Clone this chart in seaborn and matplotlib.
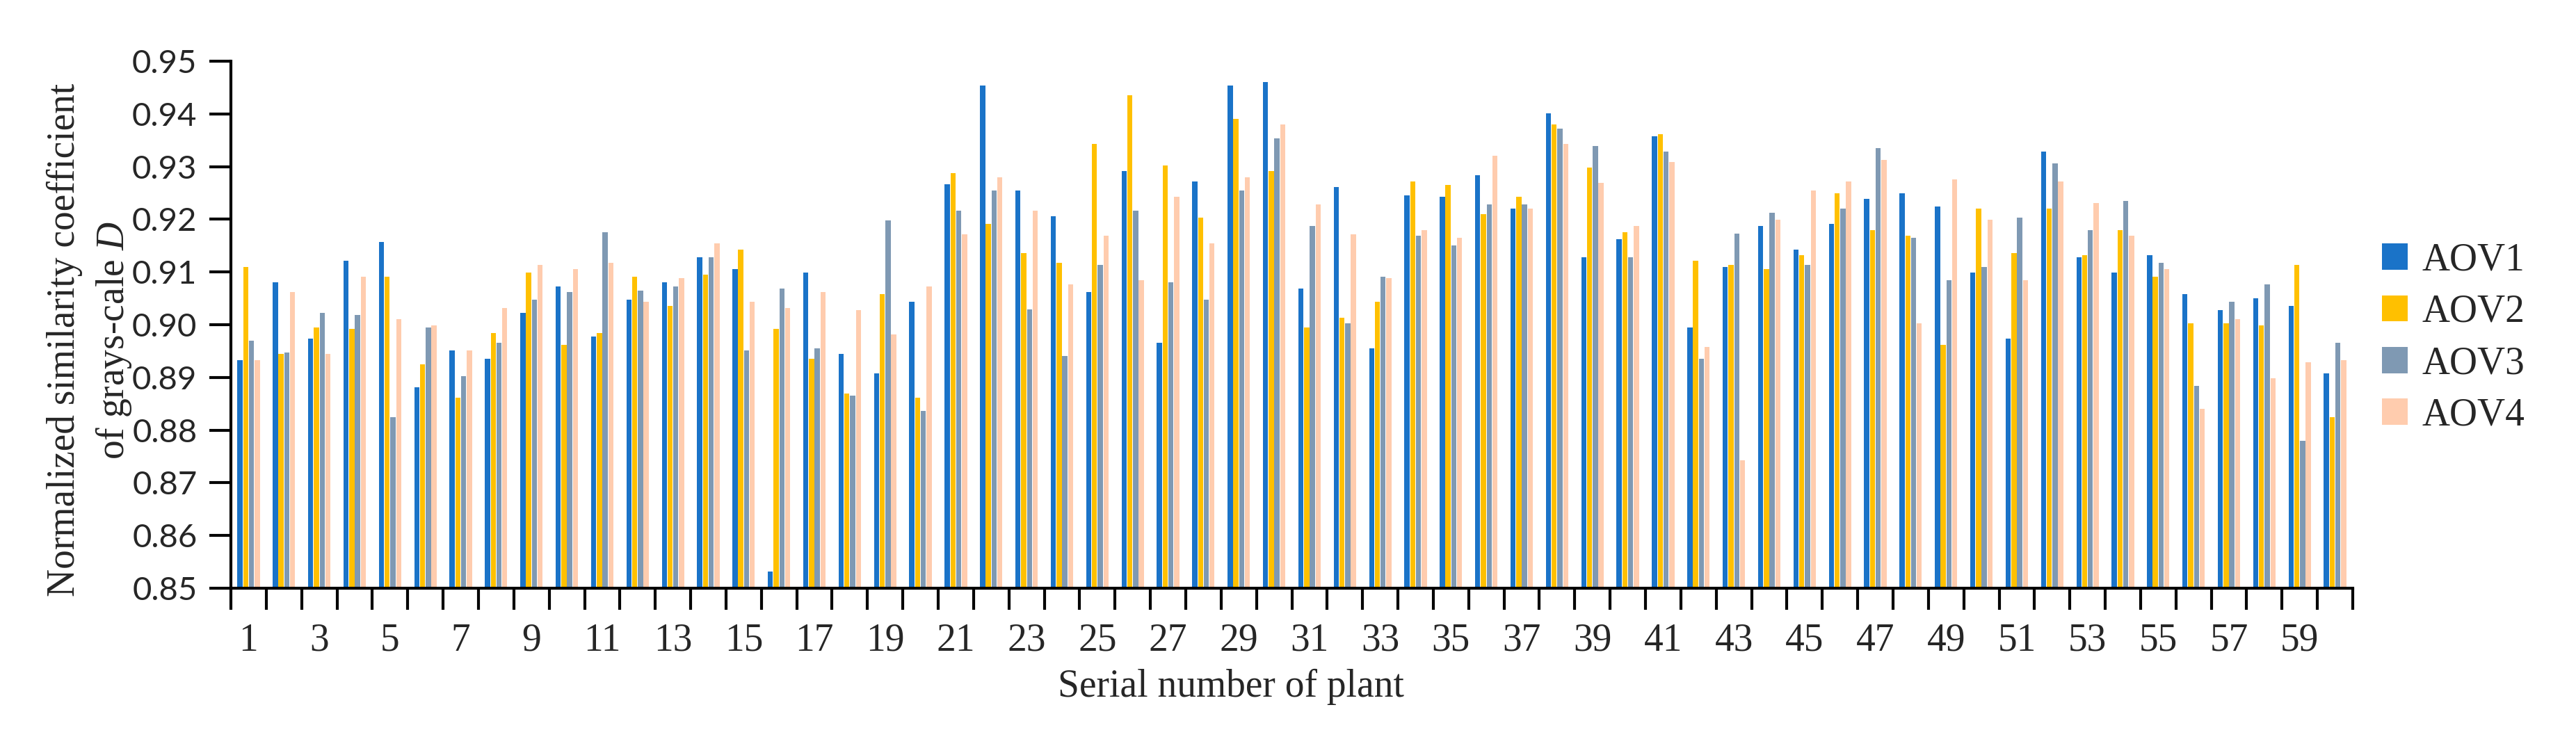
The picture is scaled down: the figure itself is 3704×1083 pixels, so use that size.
import numpy as np
import pandas as pd
import matplotlib
matplotlib.use("Agg")
import matplotlib.pyplot as plt
import seaborn as sns
from matplotlib.ticker import FixedLocator, FormatStrFormatter

# ---------------- data ----------------
plants = [str(i) for i in range(1, 61)]
series_names = ["AOV1", "AOV2", "AOV3", "AOV4"]

aov1 = [0.8933, 0.9080, 0.8973, 0.9121, 0.9157, 0.8881, 0.8951, 0.8936, 0.9022, 0.9072,
        0.8977, 0.9047, 0.9080, 0.9128, 0.9106, 0.8532, 0.9099, 0.8944, 0.8907, 0.9043,
        0.9266, 0.9454, 0.9254, 0.9206, 0.9062, 0.9291, 0.8966, 0.9272, 0.9454, 0.9461,
        0.9069, 0.9261, 0.8955, 0.9246, 0.9243, 0.9283, 0.9220, 0.9401, 0.9128, 0.9162,
        0.9358, 0.8995, 0.9110, 0.9187, 0.9143, 0.9191, 0.9239, 0.9250, 0.9224, 0.9099,
        0.8973, 0.9328, 0.9128, 0.9099, 0.9132, 0.9058, 0.9028, 0.9050, 0.9036, 0.8907]
aov2 = [0.9109, 0.8944, 0.8995, 0.8992, 0.9091, 0.8925, 0.8862, 0.8984, 0.9099, 0.8962,
        0.8984, 0.9091, 0.9036, 0.9095, 0.9143, 0.8992, 0.8936, 0.8869, 0.9058, 0.8862,
        0.9288, 0.9191, 0.9136, 0.9117, 0.9343, 0.9435, 0.9302, 0.9203, 0.9391, 0.9291,
        0.8995, 0.9013, 0.9043, 0.9272, 0.9265, 0.9210, 0.9243, 0.9380, 0.9298, 0.9176,
        0.9361, 0.9121, 0.9114, 0.9106, 0.9132, 0.9250, 0.9180, 0.9169, 0.8962, 0.9220,
        0.9136, 0.9220, 0.9132, 0.9180, 0.9091, 0.9002, 0.9002, 0.8999, 0.9114, 0.8825]
aov3 = [0.8969, 0.8947, 0.9022, 0.9018, 0.8825, 0.8995, 0.8903, 0.8966, 0.9047, 0.9062,
        0.9176, 0.9065, 0.9073, 0.9128, 0.8951, 0.9069, 0.8955, 0.8866, 0.9198, 0.8836,
        0.9217, 0.9254, 0.9029, 0.8940, 0.9114, 0.9217, 0.9080, 0.9047, 0.9254, 0.9354,
        0.9187, 0.9002, 0.9091, 0.9169, 0.9151, 0.9228, 0.9228, 0.9372, 0.9339, 0.9128,
        0.9328, 0.8936, 0.9173, 0.9213, 0.9114, 0.9220, 0.9335, 0.9165, 0.9084, 0.9110,
        0.9203, 0.9306, 0.9180, 0.9235, 0.9117, 0.8884, 0.9043, 0.9076, 0.8780, 0.8966]
aov4 = [0.8933, 0.9062, 0.8944, 0.9091, 0.9010, 0.8999, 0.8951, 0.9032, 0.9114, 0.9106,
        0.9117, 0.9043, 0.9088, 0.9154, 0.9043, 0.9032, 0.9062, 0.9028, 0.8981, 0.9073,
        0.9172, 0.9280, 0.9217, 0.9076, 0.9169, 0.9084, 0.9243, 0.9154, 0.9280, 0.9380,
        0.9228, 0.9172, 0.9088, 0.9180, 0.9165, 0.9320, 0.9220, 0.9343, 0.9269, 0.9187,
        0.9309, 0.8958, 0.8743, 0.9199, 0.9254, 0.9272, 0.9313, 0.9002, 0.9276, 0.9199,
        0.9084, 0.9272, 0.9231, 0.9169, 0.9106, 0.8840, 0.9010, 0.8899, 0.8929, 0.8933]

x_tick_labels = [str(i) for i in range(1, 61, 2)]
y_ticks = [0.85, 0.86, 0.87, 0.88, 0.89, 0.90, 0.91, 0.92, 0.93, 0.94, 0.95]
colors = ["#1A73C8", "#FFC000", "#7F99B3", "#FFCCAE"]

# ---------------- build long table ----------------
df = pd.DataFrame({
    "plant": plants * 4,
    "series": sum([[s] * 60 for s in series_names], []),
    "value": aov1 + aov2 + aov3 + aov4,
})

sns.set_theme(style="ticks")
plt.rcParams["font.family"] = ["Liberation Serif", "DejaVu Serif"]
plt.rcParams["mathtext.fontset"] = "custom"
plt.rcParams["mathtext.it"] = "Liberation Serif:italic"
plt.rcParams["mathtext.rm"] = "Liberation Serif"

W, H = 3704, 1083
dpi = 100
fig = plt.figure(figsize=(W / dpi, H / dpi), dpi=dpi)
ax = fig.add_axes([332 / W, (H - 846) / H, (3383 - 332) / W, (846 - 88) / H])

sns.barplot(data=df, x="plant", y="value", hue="series", order=plants,
            hue_order=series_names, palette=colors, width=0.65, gap=0.1,
            saturation=1, errorbar=None, ax=ax, linewidth=0)

ax.set_xlim(-0.5, 59.5)
ax.set_ylim(0.85, 0.95)
ax.set_yticks(y_ticks)
ax.yaxis.set_major_formatter(FormatStrFormatter("%.2f"))
for lab in ax.get_yticklabels():
    lab.set_fontfamily("Lato")
    lab.set_fontsize(34)

# x ticks: marks at group boundaries, labels at odd plant numbers
ax.xaxis.set_major_locator(FixedLocator(np.arange(-0.5, 60, 1)))
ax.set_xticklabels([""] * 61)
ax.xaxis.set_minor_locator(FixedLocator(np.arange(0, 60, 2)))
ax.set_xticklabels(x_tick_labels, minor=True, fontsize=40, fontfamily="Liberation Serif")
ax.tick_params(axis="x", which="major", length=22, width=3.0, direction="out", color="black")
ax.tick_params(axis="x", which="minor", length=0, pad=36)
ax.tick_params(axis="y", which="major", length=22, width=3.0, direction="out",
               color="black", pad=13)

for side in ["top", "right"]:
    ax.spines[side].set_visible(False)
for side in ["left", "bottom"]:
    ax.spines[side].set_linewidth(3.0)
    ax.spines[side].set_color("black")

ax.set_xlabel("")
ax.set_ylabel("")

# axis titles
fig.text(1770 / W, (H - 988) / H, "Serial number of plant", ha="center", va="center",
         fontsize=40, fontfamily="Liberation Serif")
fig.text(93 / W, (H - 489) / H, "Normalized similarity coefficient", rotation=90,
         ha="center", va="center", fontsize=40, fontfamily="Liberation Serif")
fig.text(163 / W, (H - 489) / H, r"of grays-cale $\mathit{D}$", rotation=90,
         ha="center", va="center", fontsize=40, fontfamily="Liberation Serif")

# legend
handles, labels = ax.get_legend_handles_labels()
if ax.get_legend() is not None:
    ax.get_legend().remove()
fig.legend(handles, labels, loc="center left", bbox_to_anchor=(3425 / W, (H - 486) / H),
           frameon=False, fontsize=40, handlelength=0.67, handleheight=0.67,
           handletextpad=0.36, labelspacing=0.4, borderpad=0, borderaxespad=0)

fig.savefig("out.png", dpi=dpi)
